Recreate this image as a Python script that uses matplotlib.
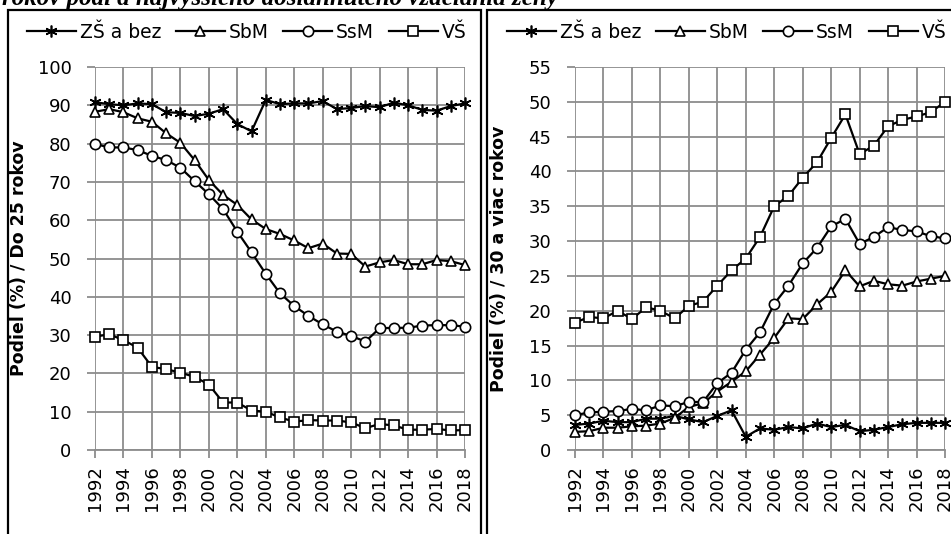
import matplotlib.pyplot as plt
from matplotlib.patches import Rectangle

# roky a podiely (%) podla najvyssieho vzdelania zeny
roky = list(range(1992, 2019))

# vek matky do 25 rokov
do25_zs = [90.8, 90.3, 90.0, 90.5, 90.3, 88.2, 88.0, 87.2, 87.8, 89.0, 85.1, 83.2, 91.4, 90.3,
           90.5, 90.5, 91.1, 89.0, 89.3, 89.8, 89.5, 90.7, 90.0, 88.8, 88.6, 89.8, 90.5]
do25_sbm = [88.3, 89.0, 88.2, 86.6, 85.7, 82.7, 80.2, 75.7, 70.5, 66.6, 64.0, 60.2, 57.7, 56.4,
            54.7, 52.7, 53.9, 51.3, 51.2, 47.9, 49.0, 49.6, 48.5, 48.5, 49.6, 49.3, 48.3]
do25_ssm = [79.9, 79.0, 79.0, 78.3, 76.8, 75.7, 73.7, 70.2, 66.8, 62.9, 57.0, 51.6, 46.0, 40.9,
            37.6, 35.0, 32.8, 30.9, 29.8, 28.3, 31.8, 31.9, 31.9, 32.5, 32.6, 32.6, 32.2]
do25_vs = [29.6, 30.2, 28.7, 26.7, 21.7, 21.1, 20.2, 19.1, 17.1, 12.4, 12.4, 10.3, 10.0, 8.5,
           7.4, 7.8, 7.7, 7.7, 7.2, 5.7, 6.8, 6.4, 5.3, 5.3, 5.5, 5.1, 5.2]

# vek matky 30 a viac rokov
nad30_zs = [3.6, 3.8, 4.2, 4.0, 4.0, 4.5, 4.5, 4.9, 4.4, 4.0, 4.9, 5.7, 1.9, 3.1,
            2.9, 3.3, 3.1, 3.8, 3.3, 3.6, 2.7, 2.9, 3.3, 3.7, 3.9, 3.9, 3.9]
nad30_sbm = [2.6, 2.7, 3.2, 3.2, 3.4, 3.5, 3.8, 4.6, 6.2, 6.7, 8.4, 9.8, 11.3, 13.7,
             16.1, 18.9, 18.8, 20.9, 22.7, 25.8, 23.5, 24.3, 23.8, 23.6, 24.2, 24.6, 25.0]
nad30_ssm = [5.0, 5.4, 5.5, 5.6, 5.9, 5.7, 6.4, 6.3, 6.9, 6.9, 9.6, 11.1, 14.4, 16.9,
             21.0, 23.6, 26.8, 29.0, 32.1, 33.2, 29.6, 30.6, 32.0, 31.6, 31.4, 30.7, 30.4]
nad30_vs = [18.3, 19.1, 18.9, 20.0, 18.8, 20.5, 20.0, 18.9, 20.7, 21.3, 23.6, 25.8, 27.5, 30.6,
            35.0, 36.5, 39.1, 41.3, 44.8, 48.2, 42.5, 43.7, 46.5, 47.4, 47.9, 48.5, 50.0]

nazvy = ["ZŠ a bez", "SbM", "SsM", "VŠ"]
nadpis = "rokov podľa najvyššieho dosiahnutého vzdelania ženy"

W, H = 951, 534
fig = plt.figure(figsize=(W / 100, H / 100), dpi=100)
plt.rcParams['font.family'] = 'DejaVu Sans'

GRID = '#8c8c8c'
FS = 13
markery = [((6, 2, 0), 8.5), ('^', 7.5), ('o', 7.4), ('s', 7.8)]


def panel(x0, serie, ymax, ystep, ylabel, leg_x):
    ax = fig.add_axes([x0 / W, 1 - 450 / H, 370 / W, 383 / H])
    for name, vals, (m, ms) in zip(nazvy, serie, markery):
        ax.plot(roky, vals, color='black', lw=1.6, marker=m, ms=ms,
                mfc='white', mec='black', mew=1.2, label=name, clip_on=False, zorder=3)
    ax.set_xlim(1992, 2018)
    ax.set_ylim(0, ymax)
    ax.set_xticks(range(1992, 2019, 2))
    ax.set_yticks(range(0, ymax + 1, ystep))
    ax.tick_params(axis='x', rotation=90, pad=5)
    ax.tick_params(axis='y', pad=11)
    ax.tick_params(length=6, width=1.3, color=GRID, labelsize=FS)
    ax.grid(True, color=GRID, lw=1.3)
    ax.set_axisbelow(True)
    for s in ['top', 'right', 'left']:
        ax.spines[s].set_visible(False)
    ax.spines['bottom'].set_color(GRID)
    ax.spines['bottom'].set_linewidth(1.3)
    ax.set_ylabel(ylabel, fontsize=12.5, fontweight='bold')
    ax.yaxis.set_label_coords(-0.181, 0.5)
    ax.legend(ncol=4, loc='upper left', bbox_to_anchor=(leg_x / W, 1 - 23 / H),
              bbox_transform=fig.transFigure, frameon=False, fontsize=13.5,
              handlelength=2.6, handletextpad=0.2, columnspacing=0.8,
              borderpad=0, borderaxespad=0)
    return ax


panel(95, [do25_zs, do25_sbm, do25_ssm, do25_vs], 100, 10, "Podiel (%) / Do 25 rokov", 27)
panel(575, [nad30_zs, nad30_sbm, nad30_ssm, nad30_vs], 55, 5, "Podiel (%) / 30 a viac rokov", 507)

# ramiky okolo grafov
fig.add_artist(Rectangle((8 / W, -0.05), 473 / W, 1.05 - 10 / H, fill=False,
                         lw=1.6, ec='black', transform=fig.transFigure))
fig.add_artist(Rectangle((487 / W, -0.05), 0.6, 1.05 - 10 / H, fill=False,
                         lw=1.6, ec='black', transform=fig.transFigure))

fig.text(2 / W, 1 - 5 / H, nadpis, family='Liberation Serif', weight='bold',
         style='italic', fontsize=18, va='baseline', ha='left')

fig.savefig('out.png', dpi=100, facecolor='white')
